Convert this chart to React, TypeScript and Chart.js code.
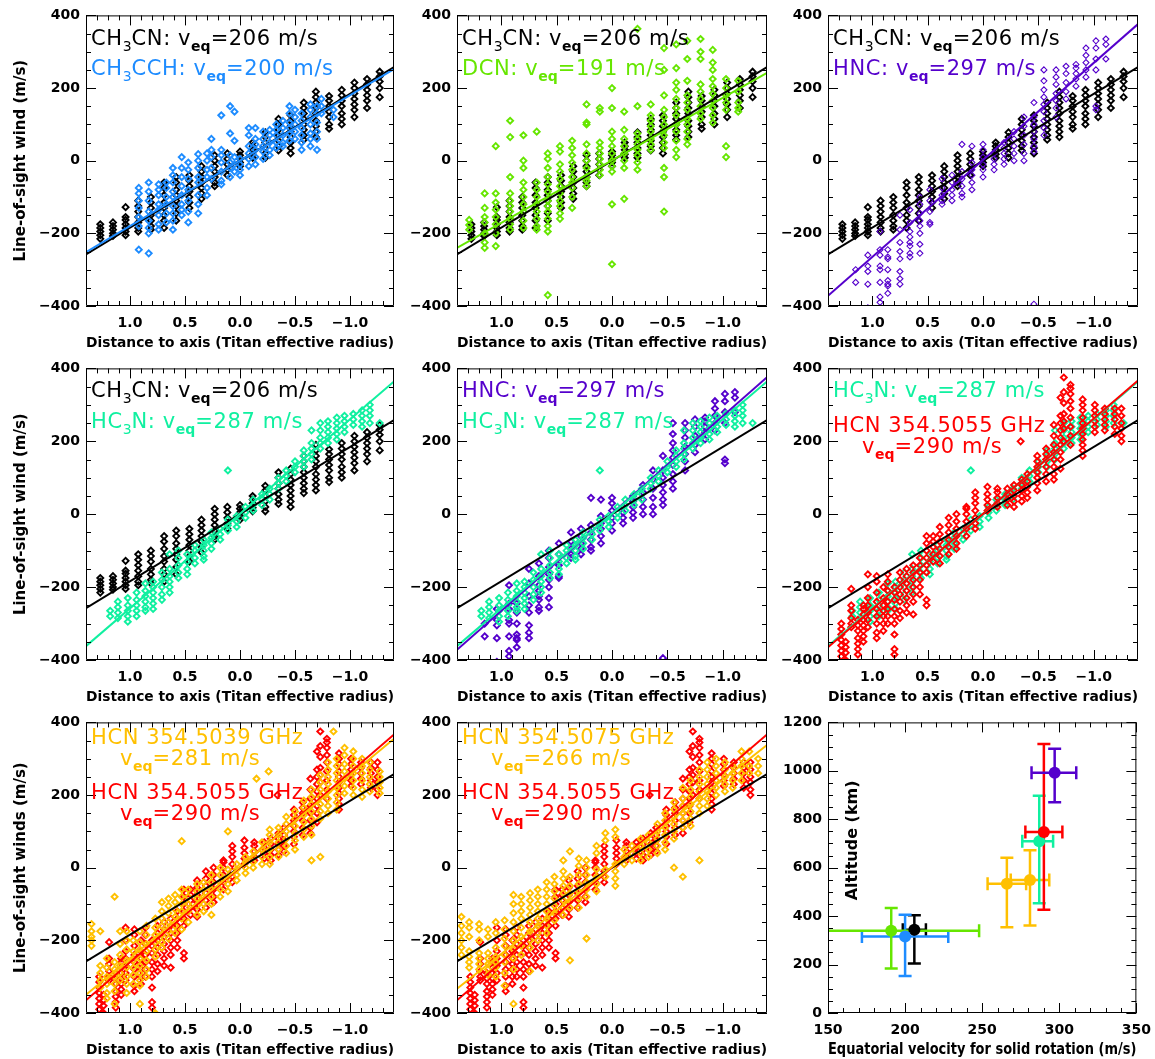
import React, { useEffect, useRef } from 'react';
import { Chart, registerables } from 'chart.js';

Chart.register(...registerables);

const FONT = '"DejaVu Sans", "Liberation Sans", sans-serif';

// ---------- colours ----------
const BLACK = '#000000';
const BLUE = '#1E8CFF';
const GREEN = '#66E600';
const PURPLE = '#5500CC';
const AQUA = '#10F0A0';
const RED = '#FF0000';
const GOLD = '#FFC000';

// ---------- axes ----------
const distTicks = [1.0, 0.5, 0.0, -0.5, -1.0];
const distMinor = [1.3, 1.2, 1.1, 0.9, 0.8, 0.7, 0.6, 0.4, 0.3, 0.2, 0.1, -0.1, -0.2, -0.3, -0.4, -0.6, -0.7, -0.8, -0.9, -1.1, -1.2, -1.3];
const distRange = [-1.4, 1.4];
const windTicks = [-400, -200, 0, 200, 400];
const windMinor = [-350, -300, -250, -150, -100, -50, 50, 100, 150, 250, 300, 350];
const windRange = [-400, 400];
const velTicks = [150, 200, 250, 300, 350];
const velMinor = [160, 170, 180, 190, 210, 220, 230, 240, 260, 270, 280, 290, 310, 320, 330, 340];
const velRange = [150, 350];
const altTicks = [0, 200, 400, 600, 800, 1000, 1200];
const altMinor = [50, 100, 150, 250, 300, 350, 450, 500, 550, 650, 700, 750, 850, 900, 950, 1050, 1100, 1150];
const altRange = [0, 1200];

// ---------- species summary (order: CH3CN, CH3CCH, DCN, HNC, HC3N, HCN5055, HCN5039, HCN5075) ----------
const vEq = [206, 200, 191, 297, 287, 290, 281, 266];
const vLow = [198.5, 172, 134, 282, 276, 278, 268.5, 253.5];
const vHigh = [213.5, 228, 248, 311, 296, 302, 293.5, 278.5];
const altitude = [344, 316, 340, 992, 709, 747, 549, 534];
const altLow = [204, 153, 184, 870, 453, 426, 361, 354];
const altHigh = [404, 406, 434, 1091, 897, 1111, 672, 641];
const speciesColors = [BLACK, BLUE, GREEN, PURPLE, AQUA, RED, GOLD, GOLD];
const errOrder = [0, 1, 2, 7, 6, 4, 5, 3];

// fitted solid-rotation lines: wind at the left (x=1.4) and right (x=-1.4) edges
const fitX = [1.4, -1.4];
const fitLeft = [-258, -252, -240, -372, -362, -365, -350, -333];
const fitRight = [258, 252, 242, 376, 364, 367, 355, 338];

// ---------- line-of-sight wind measurements: [distance, winds...] ----------
type Cols = [number, number[]][];

const ch3cnCols: Cols = [
  [1.27, [-175, -185, -195, -205, -215]],
  [1.155, [-170, -180, -190, -200, -207]],
  [1.04, [-128, -155, -163, -175, -185, -195, -205]],
  [0.925, [-110, -125, -140, -155, -170, -185, -195]],
  [0.81, [-100, -115, -130, -150, -165, -180, -190]],
  [0.69, [-60, -75, -95, -115, -130, -150, -165, -185]],
  [0.58, [-45, -60, -80, -95, -110, -125, -145, -165]],
  [0.46, [-40, -55, -70, -85, -100, -115, -130]],
  [0.35, [-15, -30, -45, -60, -75, -90, -105]],
  [0.23, [15, 0, -15, -30, -45, -60, -70]],
  [0.115, [20, 5, -10, -25, -40]],
  [0, [25, 15, 5, -5, -15]],
  [-0.115, [50, 40, 30, 18, 8]],
  [-0.23, [78, 65, 50, 35, 20, 8]],
  [-0.35, [115, 100, 85, 70, 55, 40, 28]],
  [-0.46, [125, 110, 95, 80, 65, 50, 35, 20]],
  [-0.58, [160, 145, 130, 115, 100, 85, 70, 58]],
  [-0.69, [190, 175, 160, 145, 130, 110, 95, 80, 65]],
  [-0.81, [178, 165, 150, 135, 120, 100, 88]],
  [-0.925, [195, 180, 165, 150, 130, 115, 100]],
  [-1.04, [215, 200, 185, 170, 155, 140, 120]],
  [-1.155, [225, 210, 195, 180, 165, 145]],
  [-1.27, [245, 232, 218, 200, 175]],
];

const ch3cchCols: Cols = [
  [0.92, [-75, -90, -110, -130, -155, -180, -245]],
  [0.83, [-60, -85, -110, -140, -165, -185, -200, -255]],
  [0.74, [-65, -80, -95, -120, -135, -150, -175, -190]],
  [0.67, [-60, -75, -100, -120, -145, -170]],
  [0.61, [-20, -40, -60, -85, -100, -125, -145, -165, -190]],
  [0.53, [10, -20, -45, -70, -95, -120, -135, -150]],
  [0.47, [-5, -25, -50, -80, -110, -140, -170]],
  [0.38, [18, 0, -20, -45, -60, -95, -120, -145]],
  [0.3, [20, 0, -25, -45, -75, -95]],
  [0.26, [60, 30, 10, -20, -50]],
  [0.17, [125, 30, 15, -5, -30, -55, -65]],
  [0.09, [150, 75, 15, -5, -20, -45]],
  [0.05, [135, 55, 10, -10, -30]],
  [0, [5, -10, -25, -40]],
  [-0.08, [90, 70, 40, 20, 5, -15]],
  [-0.14, [90, 60, 45, 30, 10, -10]],
  [-0.21, [80, 60, 40, 25, 5]],
  [-0.27, [85, 70, 50, 30, 15]],
  [-0.33, [100, 85, 70, 50, 35]],
  [-0.39, [110, 90, 70, 50, 40]],
  [-0.45, [150, 130, 105, 90, 75, 55]],
  [-0.5, [140, 120, 100, 80, 60]],
  [-0.56, [130, 110, 90, 70, 50, 30]],
  [-0.64, [155, 140, 120, 100, 75, 60, 40]],
  [-0.7, [150, 130, 105, 80, 60, 30]],
  [-0.74, [170, 150, 130]],
  [-0.85, [140, 120]],
];

const dcnCols: Cols = [
  [1.29, [-163, -177, -190]],
  [1.15, [-90, -130, -155, -170, -200, -225, -240]],
  [1.05, [40, -90, -115, -135, -155, -175, -200, -235]],
  [0.92, [110, 65, -45, -90, -110, -125, -140, -160, -175, -190]],
  [0.8, [70, 0, -20, -60, -80, -100, -120, -140, -165, -185]],
  [0.68, [80, -60, -80, -100, -120, -140, -160, -180, -190]],
  [0.58, [20, 5, -20, -45, -65, -85, -110, -125, -140, -160, -180, -195, -370]],
  [0.47, [40, 25, -10, -30, -50, -70, -90, -110, -125, -145, -160]],
  [0.36, [55, 35, 15, -5, -25, -45, -60, -75, -100, -130]],
  [0.23, [155, 105, 100, 45, 20, 0, -20, -45, -55, -70]],
  [0.11, [145, 135, 50, 35, 20, 5, -10, -25, -40]],
  [0, [200, 145, 80, 60, 40, 20, 0, -15, -30, -120, -285]],
  [-0.11, [135, 85, 60, 40, 20, 0, -20, -105]],
  [-0.23, [363, 150, 75, 60, 45, 30, 15, -5, -25]],
  [-0.35, [155, 125, 110, 95, 80, 60, 45, 30]],
  [-0.47, [310, 250, 180, 140, 120, 100, 85, 70, 50, 35, -20, -45, -140]],
  [-0.58, [320, 255, 215, 195, 170, 145, 125, 100, 80, 55, 30, 10]],
  [-0.68, [330, 280, 220, 180, 160, 140, 115, 100, 80, 60, 45]],
  [-0.8, [335, 300, 280, 210, 190, 170, 150, 130, 115]],
  [-0.91, [305, 270, 250, 225, 205, 185, 165, 145, 125, 105]],
  [-1.03, [225, 200, 180, 160, 140, 40, 10]],
  [-1.14, [220, 190, 160, 145, 135]],
];

const hncCols: Cols = [
  [1.15, [-300, -335]],
  [1.04, [-260, -290, -305, -340, -405]],
  [0.93, [-195, -245, -260, -290, -300, -335, -375, -390]],
  [0.86, [-245, -265, -270, -300, -330, -340, -345, -365]],
  [0.75, [-150, -190, -225, -250, -270, -305, -325, -340]],
  [0.66, [-135, -170, -195, -210, -225, -235, -255, -265]],
  [0.57, [-100, -120, -145, -165, -180, -200, -230, -255]],
  [0.48, [-80, -110, -140, -170, -175]],
  [0.37, [-50, -75, -95, -110, -120]],
  [0.28, [-40, -60, -80, -95, -110]],
  [0.19, [45, -30, -50, -70, -90, -100]],
  [0.1, [40, -5, -25, -40, -60, -80]],
  [0, [45, 30, 10, -10, -25, -45]],
  [-0.1, [20, 5, -10, -25]],
  [-0.19, [50, 35, 20, 5, -10]],
  [-0.28, [80, 60, 40, 20, 0]],
  [-0.37, [120, 95, 70, 45, 20, 0]],
  [-0.46, [160, 120, 100, 80, 60, 40, 25, -395]],
  [-0.55, [250, 220, 195, 175, 155, 135, 110, 90, 70]],
  [-0.66, [250, 230, 210, 185, 165, 145, 120]],
  [-0.75, [260, 240, 215, 190, 170]],
  [-0.84, [265, 255, 240, 225, 205]],
  [-0.93, [310, 290, 270, 250, 230]],
  [-1.02, [330, 310, 280, 250, 150, 140]],
  [-1.11, [335, 320, 280]],
];

const hc3nCols: Cols = [
  [1.18, [-265, -280]],
  [1.11, [-240, -255, -270, -285]],
  [1.02, [-230, -250, -265, -280, -295]],
  [0.94, [-215, -235, -250, -265, -280]],
  [0.86, [-190, -210, -225, -240, -255, -265]],
  [0.79, [-185, -200, -215, -230, -245, -260]],
  [0.71, [-160, -180, -200, -220, -235]],
  [0.64, [-110, -150, -170, -185, -200, -215]],
  [0.56, [-100, -120, -140, -160, -175]],
  [0.48, [-110, -130, -150, -165]],
  [0.41, [-85, -100, -120, -135]],
  [0.33, [-70, -85, -100, -115, -125]],
  [0.26, [-50, -65, -80, -95]],
  [0.18, [-40, -55, -70]],
  [0.11, [120, -15, -30, -45]],
  [0.03, [-5, -20, -35]],
  [-0.05, [20, 5, -10]],
  [-0.12, [40, 25, 10]],
  [-0.2, [55, 40, 25]],
  [-0.27, [70, 55, 40]],
  [-0.35, [100, 85, 70]],
  [-0.42, [120, 105, 90]],
  [-0.5, [145, 130, 115]],
  [-0.58, [175, 160, 145, 130]],
  [-0.65, [230, 195, 180, 165, 150]],
  [-0.73, [250, 230, 210, 195, 180]],
  [-0.8, [255, 240, 225, 210, 195]],
  [-0.88, [265, 250, 235, 220, 205]],
  [-0.95, [270, 255, 240, 225]],
  [-1.03, [275, 260, 245]],
  [-1.11, [285, 270, 255, 240]],
  [-1.18, [300, 285, 270, 250]],
  [-1.27, [250]],
];

const hcn5055Cols: Cols = [
  [1.28, [-300, -315, -330, -345, -360, -375, -390]],
  [1.24, [-350, -365, -380, -400]],
  [1.19, [-205, -250, -265, -285, -300, -310]],
  [1.13, [-290, -305, -320, -340, -355, -370, -385]],
  [1.08, [-250, -260, -275, -290, -305, -320, -335, -350]],
  [1.04, [-165, -200, -230, -250, -270, -290, -310]],
  [0.96, [-170, -185, -215, -240, -260, -280, -300, -325, -340]],
  [0.9, [-200, -230, -250, -265, -280, -300, -320]],
  [0.86, [-165, -185, -210, -240, -260, -280, -300]],
  [0.8, [-200, -215, -235, -260, -280, -300, -330, -370, -385]],
  [0.75, [-160, -180, -200, -220, -240, -265, -285]],
  [0.69, [-150, -170, -190, -210, -230, -250, -270]],
  [0.63, [-140, -160, -180, -200, -220, -240, -275]],
  [0.57, [-120, -140, -160, -180, -200, -220]],
  [0.51, [-60, -80, -100, -120, -140, -160, -235, -250]],
  [0.45, [-60, -75, -90, -110, -130]],
  [0.39, [-35, -55, -75, -95, -115, -135]],
  [0.31, [-10, -30, -50, -70, -90, -110]],
  [0.24, [0, -20, -40, -60, -80, -95]],
  [0.15, [20, 15, 0, -20, -40, -60]],
  [0.07, [60, 45, 30, 10, -10, -25, -40]],
  [-0.04, [75, 55, 40, 25, 10]],
  [-0.13, [70, 60, 45, 30, 20]],
  [-0.22, [70, 55, 40, 25]],
  [-0.28, [80, 65, 50, 35, 20]],
  [-0.34, [200]],
  [-0.35, [95, 80, 65, 50, 35]],
  [-0.4, [110, 90, 75, 60, 45]],
  [-0.49, [160, 145, 130, 115, 100, 85, 65]],
  [-0.57, [180, 165, 150, 130, 110, 90]],
  [-0.64, [245, 215, 190, 170, 150, 130, 110, 95]],
  [-0.7, [320, 270, 250, 230, 210, 190, 170, 150, 125]],
  [-0.73, [375, 335, 305, 275, 255, 235, 200]],
  [-0.79, [355, 345, 330, 310, 290, 265, 240, 215, 190]],
  [-0.9, [315, 300, 285, 265, 250, 235, 220, 205, 190, 175, 160]],
  [-1.01, [300, 285, 270, 255, 240, 225]],
  [-1.1, [290, 275, 260, 245, 230]],
  [-1.19, [290, 275, 260, 240, 220]],
  [-1.25, [290, 270, 250, 235, 215, 200]],
];

const hcn5039Cols: Cols = [
  [1.35, [-155, -175, -190, -200, -215]],
  [1.27, [-175, -270, -290, -310, -330]],
  [1.21, [-250, -275, -300, -320, -345, -360]],
  [1.14, [-80, -260, -280, -300, -320, -340, -375]],
  [1.09, [-175, -210, -240, -270, -290, -310]],
  [1.03, [-175, -200, -225, -255, -275, -300, -320, -345]],
  [0.97, [-200, -230, -255, -275, -295, -320]],
  [0.91, [-175, -205, -225, -250, -270, -290, -310, -325, -375]],
  [0.85, [-160, -185, -210, -230, -255, -280, -300]],
  [0.77, [-140, -165, -185, -205, -225, -245, -400]],
  [0.71, [-95, -120, -140, -160, -185, -205, -220]],
  [0.65, [-85, -105, -125, -150, -175, -195]],
  [0.59, [-75, -95, -115, -135, -160, -180]],
  [0.53, [73, -60, -80, -100, -120, -140, -170]],
  [0.47, [-60, -80, -100, -120, -150]],
  [0.39, [-45, -65, -85, -105, -130]],
  [0.33, [-40, -60, -80, -100, -120]],
  [0.26, [-20, -40, -60, -80, -100, -130]],
  [0.18, [0, -20, -40, -60, -80]],
  [0.11, [100, -5, -25, -45, -65]],
  [0.03, [10, -5, -20, -35]],
  [-0.05, [30, 15, 0, -15]],
  [-0.12, [45, 30, 15, 0]],
  [-0.15, [245]],
  [-0.2, [70, 50, 30, 10]],
  [-0.26, [265]],
  [-0.27, [105, 90, 70, 50, 30, 10]],
  [-0.35, [110, 90, 70, 50, 30]],
  [-0.42, [140, 120, 100, 80, 60, 40]],
  [-0.5, [155, 135, 115, 95, 75, 50]],
  [-0.58, [185, 165, 145, 125, 105, 85]],
  [-0.65, [215, 195, 175, 155, 135, 115, 90, 20]],
  [-0.73, [255, 235, 215, 195, 175, 155, 135, 30]],
  [-0.8, [290, 270, 250, 230, 210, 190, 170, 150]],
  [-0.85, [375]],
  [-0.88, [300, 280, 260, 240, 220, 200, 180, 160]],
  [-0.95, [330, 310, 285, 265, 245, 225, 205]],
  [-1.03, [320, 300, 280, 260, 240, 220, 200]],
  [-1.11, [300, 280, 260, 240, 215, 195]],
  [-1.18, [290, 270, 250, 230, 210]],
  [-1.27, [265, 250, 235, 220, 205]],
];

const hcn5075Cols: Cols = [
  [1.36, [-135, -160, -180, -200, -220, -240]],
  [1.29, [-150, -165, -190, -230, -245, -260, -275]],
  [1.2, [-155, -170, -200, -235, -250, -265, -280]],
  [1.12, [-170, -190, -235, -250, -265, -280, -295]],
  [1.05, [-150, -180, -220, -245, -260, -275, -300]],
  [0.97, [-145, -170, -195, -215, -240, -260, -290, -325]],
  [0.89, [-75, -100, -125, -150, -175, -200, -225, -250, -280, -375]],
  [0.82, [-80, -100, -120, -140, -165, -190, -215, -240]],
  [0.74, [-70, -90, -110, -130, -150, -175, -200, -220, -285]],
  [0.67, [-60, -80, -100, -120, -140, -160, -180, -200]],
  [0.59, [-40, -60, -80, -100, -120, -140, -160, -180]],
  [0.52, [-25, -45, -65, -85, -105, -125, -145]],
  [0.44, [20, -10, -30, -50, -70, -90, -110, -130]],
  [0.38, [45, -25, -50, -70, -90, -110, -255]],
  [0.3, [25, 5, -20, -45, -65, -85, -110]],
  [0.23, [20, 0, -20, -40, -60, -80, -195]],
  [0.14, [60, 40, -5, -25, -45, -65]],
  [0.06, [95, 75, -5, -25]],
  [-0.03, [105, 85, 10, -10, -30, -50]],
  [-0.11, [50, 30, 10]],
  [-0.18, [60, 40, 20]],
  [-0.26, [80, 60, 40, 20]],
  [-0.33, [90, 70, 50, 30]],
  [-0.41, [120, 100, 80, 60, 40]],
  [-0.48, [150, 130, 110, 90, 70, 50]],
  [-0.56, [180, 160, 140, 120, 100, 80, 0]],
  [-0.64, [220, 190, 170, 150, 130, 110, -25]],
  [-0.71, [240, 215, 195, 175, 155, 135, 115]],
  [-0.79, [270, 250, 230, 210, 190, 170, 150, 20]],
  [-0.86, [290, 270, 250, 230, 210, 190, 170]],
  [-0.94, [300, 280, 260, 240, 220, 200]],
  [-1.02, [290, 270, 250, 230, 210]],
  [-1.09, [280, 260, 240, 220]],
  [-1.17, [320, 300, 280, 260, 240]],
  [-1.24, [320, 280, 260]],
  [-1.32, [300, 280, 260]],
];

// ---------- text ----------
const X_TITLE = 'Distance to axis (Titan effective radius)';
const VEL_TITLE = 'Equatorial velocity for solid rotation (m/s)';
const ALT_TITLE = 'Altitude (km)';

type Seg = { t: string; sub?: boolean; bold?: boolean };
const S = (t: string): Seg => ({ t });
const SUB = (t: string): Seg => ({ t, sub: true });
const CH3CN: Seg[] = [S('CH'), SUB('3'), S('CN: ')];
const CH3CCH: Seg[] = [S('CH'), SUB('3'), S('CCH: ')];
const DCN: Seg[] = [S('DCN: ')];
const HNC: Seg[] = [S('HNC: ')];
const HC3N: Seg[] = [S('HC'), SUB('3'), S('N: ')];
const veq = (v: number): Seg[] => [S('v'), { t: 'eq', sub: true, bold: true }, S('=' + v + ' m/s')];

// ---------- layout ----------
const COL_X = [86, 457, 828];
const COL_W = [308, 310, 310];
const ROW_Y = [13, 366, 720];
const ROW_H = [293, 294, 293];
const AXIS_W = 86;
const PAD_T = 12;
const PAD_R = 22;
const AXIS_H = 50;

const flatten = (cols: Cols) => cols.flatMap(([x, ys]) => ys.map((y) => ({ x, y })));

function pts(cols: Cols, color: string, bw = 1.9) {
  return {
    data: flatten(cols),
    showLine: false,
    pointStyle: 'rectRot',
    pointRadius: 3,
    pointBorderWidth: bw,
    pointBorderColor: color,
    pointBackgroundColor: 'rgba(0,0,0,0)',
  };
}
function fit(i: number) {
  return {
    data: [
      { x: fitX[0], y: fitLeft[i] },
      { x: fitX[1], y: fitRight[i] },
    ],
    showLine: true,
    borderColor: speciesColors[i],
    borderWidth: 2,
    pointRadius: 0,
  };
}

type Label = { segs: Seg[]; color: string; dx: number; dy: number };
const L = (segs: Seg[], color: string, dx: number, dy: number): Label => ({ segs, color, dx, dy });

const PANELS: any[] = [
  {
    col: 0, row: 0, yTitle: 'Line-of-sight wind (m/s)',
    datasets: [fit(1), fit(0), pts(ch3cchCols, BLUE), pts(ch3cnCols, BLACK)],
    labels: [L([...CH3CN, ...veq(vEq[0])], BLACK, 5, 30), L([...CH3CCH, ...veq(vEq[1])], BLUE, 5, 60)],
  },
  {
    col: 1, row: 0,
    datasets: [fit(2), fit(0), pts(dcnCols, GREEN), pts(ch3cnCols, BLACK)],
    labels: [L([...CH3CN, ...veq(vEq[0])], BLACK, 5, 30), L([...DCN, ...veq(vEq[2])], GREEN, 5, 60)],
  },
  {
    col: 2, row: 0,
    datasets: [fit(3), fit(0), pts(hncCols, PURPLE, 1.1), pts(ch3cnCols, BLACK)],
    labels: [L([...CH3CN, ...veq(vEq[0])], BLACK, 5, 30), L([...HNC, ...veq(vEq[3])], PURPLE, 5, 60)],
  },
  {
    col: 0, row: 1, yTitle: 'Line-of-sight wind (m/s)',
    datasets: [fit(4), fit(0), pts(hc3nCols, AQUA), pts(ch3cnCols, BLACK)],
    labels: [L([...CH3CN, ...veq(vEq[0])], BLACK, 5, 29), L([...HC3N, ...veq(vEq[4])], AQUA, 5, 60)],
  },
  {
    col: 1, row: 1,
    datasets: [fit(4), fit(3), fit(0), pts(hc3nCols, AQUA), pts(hncCols, PURPLE)],
    labels: [L([...HNC, ...veq(vEq[3])], PURPLE, 5, 29), L([...HC3N, ...veq(vEq[4])], AQUA, 5, 60)],
  },
  {
    col: 2, row: 1,
    datasets: [fit(5), fit(4), fit(0), pts(hcn5055Cols, RED), pts(hc3nCols, AQUA)],
    labels: [
      L([...HC3N, ...veq(vEq[4])], AQUA, 5, 29),
      L([S('HCN 354.5055 GHz')], RED, 5, 64),
      L(veq(vEq[5]), RED, 34, 85),
    ],
  },
  {
    col: 0, row: 2, yTitle: 'Line-of-sight winds (m/s)',
    datasets: [fit(6), fit(5), fit(0), pts(hcn5039Cols, GOLD), pts(hcn5055Cols, RED)],
    labels: [
      L([S('HCN 354.5039 GHz')], GOLD, 5, 22),
      L(veq(vEq[6]), GOLD, 34, 43),
      L([S('HCN 354.5055 GHz')], RED, 5, 77),
      L(veq(vEq[5]), RED, 34, 98),
    ],
  },
  {
    col: 1, row: 2,
    datasets: [fit(7), fit(5), fit(0), pts(hcn5075Cols, GOLD), pts(hcn5055Cols, RED)],
    labels: [
      L([S('HCN 354.5075 GHz')], GOLD, 5, 22),
      L(veq(vEq[7]), GOLD, 34, 43),
      L([S('HCN 354.5055 GHz')], RED, 5, 77),
      L(veq(vEq[5]), RED, 34, 98),
    ],
  },
  {
    col: 2, row: 2, vel: true,
    datasets: errOrder.map((i) => ({
      data: [{ x: vEq[i], y: altitude[i] }],
      pointStyle: 'circle',
      pointRadius: 6,
      pointBorderWidth: 0,
      pointBackgroundColor: speciesColors[i],
      pointBorderColor: speciesColors[i],
    })).reverse(),
    labels: [],
  },
];

function drawRich(ctx: CanvasRenderingContext2D, x: number, y: number, segs: Seg[], color: string) {
  ctx.fillStyle = color;
  ctx.textAlign = 'left';
  ctx.textBaseline = 'alphabetic';
  let cx = x;
  for (const s of segs) {
    ctx.font = `${s.bold ? 'bold ' : ''}${s.sub ? 14 : 21}px ${FONT}`;
    (ctx as any).letterSpacing = s.sub ? '0px' : '0.6px';
    ctx.fillText(s.t, cx, y + (s.sub ? 6 : 0));
    cx += ctx.measureText(s.t).width;
  }
  (ctx as any).letterSpacing = '0px';
}

const fmtDist = (v: number) => (v < 0 ? '\u2212' + Math.abs(v).toFixed(1) : v.toFixed(1));
const fmtInt = (v: number) => (v < 0 ? '\u2212' + Math.abs(v) : String(v));

function buildConfig(p: any, idx: number) {
  const vel = !!p.vel;
  const xMajor = vel ? velTicks : distTicks;
  const xMinor = vel ? velMinor : distMinor;
  const yMajor = vel ? altTicks : windTicks;
  const yMinor = vel ? altMinor : windMinor;
  const xr = vel ? velRange : distRange;
  const yr = vel ? altRange : windRange;
  const tickFont = { family: FONT, size: 14, weight: 'bold' as const };
  const titleFont = { family: FONT, size: vel ? 15.5 : 14, weight: 'bold' as const };

  const frame = {
    id: 'frame' + idx,
    beforeDatasetsDraw(chart: any) {
      if (!vel) return;
      const { ctx, chartArea: a } = chart;
      const sx = chart.scales.x;
      const sy = chart.scales.y;
      ctx.save();
      ctx.beginPath();
      ctx.rect(a.left, a.top, a.right - a.left, a.bottom - a.top);
      ctx.clip();
      ctx.lineWidth = 2.5;
      const cap = 6.5;
      for (const i of errOrder) {
        const px = sx.getPixelForValue(vEq[i]);
        const py = sy.getPixelForValue(altitude[i]);
        const x0 = sx.getPixelForValue(vLow[i]);
        const x1 = sx.getPixelForValue(vHigh[i]);
        const y0 = sy.getPixelForValue(altLow[i]);
        const y1 = sy.getPixelForValue(altHigh[i]);
        ctx.strokeStyle = speciesColors[i];
        ctx.beginPath();
        ctx.moveTo(x0, py); ctx.lineTo(x1, py);
        ctx.moveTo(x0, py - cap); ctx.lineTo(x0, py + cap);
        ctx.moveTo(x1, py - cap); ctx.lineTo(x1, py + cap);
        ctx.moveTo(px, y0); ctx.lineTo(px, y1);
        ctx.moveTo(px - cap, y0); ctx.lineTo(px + cap, y0);
        ctx.moveTo(px - cap, y1); ctx.lineTo(px + cap, y1);
        ctx.stroke();
      }
      ctx.restore();
    },
    afterDatasetsDraw(chart: any) {
      const { ctx, chartArea: a } = chart;
      const sx = chart.scales.x;
      const sy = chart.scales.y;
      ctx.save();
      ctx.strokeStyle = '#000';
      ctx.lineWidth = 1;
      ctx.beginPath();
      ctx.rect(a.left + 0.5, a.top + 0.5, a.right - a.left - 1, a.bottom - a.top - 1);
      const vt = (v: number, len: number) => {
        const px = Math.round(sx.getPixelForValue(v)) + 0.5;
        ctx.moveTo(px, a.bottom); ctx.lineTo(px, a.bottom - len);
        ctx.moveTo(px, a.top); ctx.lineTo(px, a.top + len);
      };
      const ht = (v: number, len: number) => {
        const py = Math.round(sy.getPixelForValue(v)) + 0.5;
        ctx.moveTo(a.left, py); ctx.lineTo(a.left + len, py);
        ctx.moveTo(a.right, py); ctx.lineTo(a.right - len, py);
      };
      xMajor.forEach((v) => vt(v, 10));
      xMinor.forEach((v) => vt(v, 5));
      yMajor.forEach((v) => ht(v, 10));
      yMinor.forEach((v) => ht(v, 5));
      ctx.stroke();
      for (const lb of p.labels as Label[]) drawRich(ctx, a.left + lb.dx, a.top + lb.dy, lb.segs, lb.color);
      if (vel) {
        ctx.translate(a.left + 25, a.top + 118);
        ctx.rotate(-Math.PI / 2);
        ctx.fillStyle = '#000';
        ctx.font = `bold 16px ${FONT}`;
        ctx.textAlign = 'center';
        ctx.textBaseline = 'middle';
        ctx.fillText(ALT_TITLE, 0, 0);
      }
      ctx.restore();
    },
  };

  return {
    type: 'scatter',
    data: { datasets: p.datasets },
    options: {
      responsive: false,
      animation: false,
      events: [],
      layout: { padding: { top: PAD_T, right: PAD_R, left: 0, bottom: 0 } },
      plugins: { legend: { display: false }, tooltip: { enabled: false } },
      scales: {
        x: {
          type: 'linear',
          min: xr[0],
          max: xr[1],
          reverse: !vel,
          grid: { display: false, drawTicks: false },
          border: { display: false },
          ticks: {
            color: '#000',
            font: tickFont,
            padding: 9,
            autoSkip: false,
            maxRotation: 0,
            callback: (v: number) => (vel ? fmtInt(v) : fmtDist(v)),
          },
          afterBuildTicks: (s: any) => { s.ticks = xMajor.map((v) => ({ value: v })); },
          afterFit: (s: any) => { s.height = AXIS_H; },
          title: {
            display: true,
            text: vel ? VEL_TITLE : X_TITLE,
            color: '#000',
            font: titleFont,
            padding: { top: 0, bottom: 4 },
          },
        },
        y: {
          type: 'linear',
          min: yr[0],
          max: yr[1],
          grid: { display: false, drawTicks: false },
          border: { display: false },
          ticks: {
            color: '#000',
            font: tickFont,
            padding: 6,
            autoSkip: false,
            callback: (v: number) => fmtInt(v),
          },
          afterBuildTicks: (s: any) => { s.ticks = yMajor.map((v) => ({ value: v })); },
          afterFit: (s: any) => { s.width = AXIS_W; },
          title: {
            display: !!p.yTitle,
            text: p.yTitle || '',
            color: '#000',
            font: { family: FONT, size: 15, weight: 'bold' as const },
            padding: { top: 12, bottom: 0 },
          },
        },
      },
    },
    plugins: [frame],
  };
}

export default function App() {
  const refs = useRef<(HTMLCanvasElement | null)[]>([]);
  useEffect(() => {
    const charts = PANELS.map((p, i) => new Chart(refs.current[i] as HTMLCanvasElement, buildConfig(p, i) as any));
    return () => charts.forEach((c) => c.destroy());
  }, []);
  return (
    <div
      style={{
        position: 'absolute', left: 0, top: 0, width: 1155, height: 1059,
        overflow: 'hidden', background: '#ffffff',
      }}
    >
      {PANELS.map((p, i) => {
        const w = AXIS_W + COL_W[p.col] + PAD_R;
        const h = PAD_T + ROW_H[p.row] + AXIS_H;
        return (
          <canvas
            key={i}
            ref={(el) => { refs.current[i] = el; }}
            width={w}
            height={h}
            style={{ position: 'absolute', left: COL_X[p.col] - AXIS_W, top: ROW_Y[p.row] - PAD_T, width: w, height: h }}
          />
        );
      })}
    </div>
  );
}
